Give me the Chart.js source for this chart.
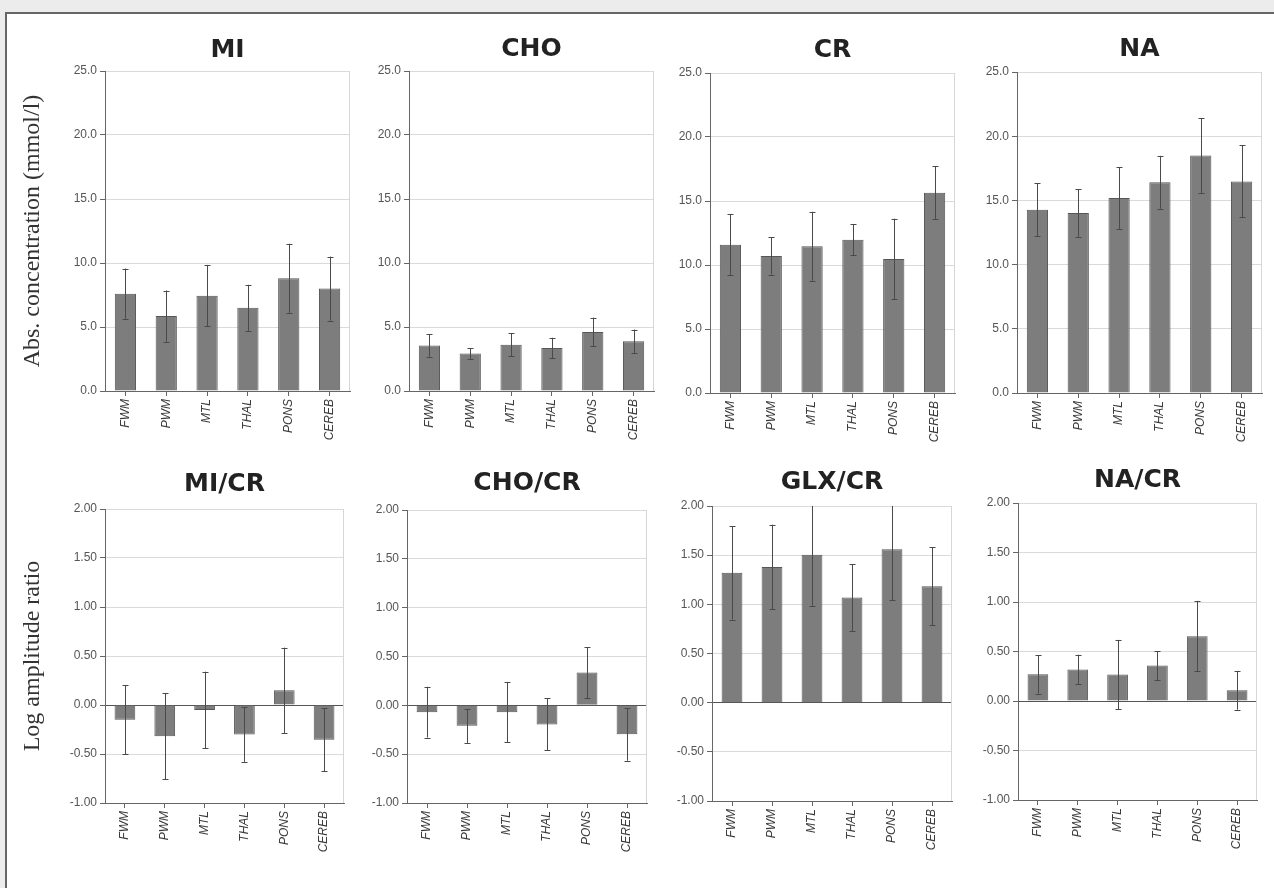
<!DOCTYPE html>
<html><head><meta charset="utf-8">
<script src="https://cdn.jsdelivr.net/npm/chart.js@4.4.1/dist/chart.umd.min.js"></script>
<style>
html,body{margin:0;padding:0;}
body{width:1274px;height:888px;background:#ececec;position:relative;overflow:hidden;}
#frame{position:absolute;left:5px;top:12px;right:0;bottom:0;background:#fff;border-left:2px solid #666;border-top:2px solid #666;}
canvas{position:absolute;}
</style></head><body>
<div id="frame"></div>
<script>
// ---- data ----
const regions = ['FWM', 'PWM', 'MTL', 'THAL', 'PONS', 'CEREB'];

const miMean  = [7.6, 5.85, 7.45, 6.5, 8.8, 8.0];
const miSd    = [1.97, 2.0, 2.4, 1.8, 2.7, 2.5];
const choMean = [3.55, 2.92, 3.62, 3.36, 4.61, 3.88];
const choSd   = [0.88, 0.43, 0.9, 0.8, 1.12, 0.92];
const crMean  = [11.59, 10.7, 11.46, 11.98, 10.47, 15.65];
const crSd    = [2.4, 1.45, 2.7, 1.2, 3.15, 2.05];
const naMean  = [14.27, 14.01, 15.18, 16.41, 18.49, 16.48];
const naSd    = [2.07, 1.85, 2.4, 2.06, 2.93, 2.8];

const miCrMean  = [-0.15, -0.32, -0.05, -0.30, 0.15, -0.355];
const miCrSd    = [0.35, 0.44, 0.39, 0.28, 0.435, 0.32];
const choCrMean = [-0.07, -0.21, -0.07, -0.195, 0.335, -0.297];
const choCrSd   = [0.26, 0.175, 0.31, 0.265, 0.26, 0.27];
const glxCrMean = [1.32, 1.38, 1.505, 1.069, 1.56, 1.184];
const glxCrSd   = [0.475, 0.43, 0.52, 0.34, 0.52, 0.395];
const naCrMean  = [0.27, 0.318, 0.267, 0.358, 0.655, 0.108];
const naCrSd    = [0.195, 0.15, 0.35, 0.147, 0.356, 0.196];

const concTicks = {min: 0, max: 25, step: 5, decimals: 1};
const ratioTicks = {min: -1, max: 2, step: 0.5, decimals: 2};

const concLabel = 'Abs. concentration (mmol/l)';
const ratioLabel = 'Log amplitude ratio';

const panels = [
  {title: 'MI',     mean: miMean,    sd: miSd,    ticks: concTicks,  yTitle: concLabel},
  {title: 'CHO',    mean: choMean,   sd: choSd,   ticks: concTicks},
  {title: 'CR',     mean: crMean,    sd: crSd,    ticks: concTicks},
  {title: 'NA',     mean: naMean,    sd: naSd,    ticks: concTicks},
  {title: 'MI/CR',  mean: miCrMean,  sd: miCrSd,  ticks: ratioTicks, yTitle: ratioLabel},
  {title: 'CHO/CR', mean: choCrMean, sd: choCrSd, ticks: ratioTicks},
  {title: 'GLX/CR', mean: glxCrMean, sd: glxCrSd, ticks: ratioTicks},
  {title: 'NA/CR',  mean: naCrMean,  sd: naCrSd,  ticks: ratioTicks}
];

// ---- layout (plot-area boxes, title centre) ----
const boxes = [
  {l: 105, r: 350, t: 71, b: 391, ty: 50},
  {l: 409, r: 654, t: 71, b: 391, ty: 49},
  {l: 710, r: 955, t: 73, b: 393, ty: 50},
  {l: 1017, r: 1262, t: 72, b: 393, ty: 49},
  {l: 105, r: 344, t: 509, b: 803, ty: 484},
  {l: 407, r: 647, t: 510, b: 803, ty: 483},
  {l: 712, r: 952, t: 506, b: 801, ty: 482},
  {l: 1018, r: 1257, t: 503, b: 800, ty: 480}
];

const errorBars = {
  id: 'errorBars',
  afterDatasetsDraw(chart) {
    const meta = chart.getDatasetMeta(0);
    const ds = chart.data.datasets[0];
    const y = chart.scales.y;
    const ca = chart.chartArea;
    const ctx = chart.ctx;
    ctx.save();
    ctx.strokeStyle = '#4a4a4a';
    ctx.lineWidth = 1;
    meta.data.forEach((bar, i) => {
      const m = ds.data[i], s = ds.errors[i];
      let yt = y.getPixelForValue(m + s), yb = y.getPixelForValue(m - s);
      const x = Math.round(bar.x) + 0.5;
      const clipTop = yt < ca.top - 0.5;
      const clipBot = yb > ca.bottom + 0.5;
      yt = Math.max(yt, ca.top); yb = Math.min(yb, ca.bottom);
      ctx.beginPath();
      ctx.moveTo(x, yt); ctx.lineTo(x, yb);
      if (!clipTop) { ctx.moveTo(x - 3, Math.round(yt) + 0.5); ctx.lineTo(x + 3, Math.round(yt) + 0.5); }
      if (!clipBot) { ctx.moveTo(x - 3, Math.round(yb) + 0.5); ctx.lineTo(x + 3, Math.round(yb) + 0.5); }
      ctx.stroke();
    });
    ctx.restore();
  }
};

const rightEdge = {
  id: 'rightEdge',
  beforeDatasetsDraw(chart) {
    const ca = chart.chartArea, ctx = chart.ctx;
    ctx.save();
    ctx.strokeStyle = '#d6d6d6';
    ctx.lineWidth = 1;
    ctx.beginPath();
    ctx.moveTo(Math.round(ca.right) - 0.5, ca.top);
    ctx.lineTo(Math.round(ca.right) - 0.5, ca.bottom);
    ctx.stroke();
    ctx.restore();
  }
};

const TITLE_SIZE = 25, TITLE_LH = 1.2;
const XAXIS_H = 75;

panels.forEach((p, i) => {
  const bx = boxes[i];
  const col = i % 4;
  const A = col === 0 ? bx.l - 10 : 50;
  const cLeft = bx.l - A;
  const cTop = Math.round(bx.ty - TITLE_SIZE * TITLE_LH / 2);
  const cW = (bx.r - bx.l) + 2 * A;
  const cH = (bx.b - cTop) + XAXIS_H;
  const padBottom = bx.t - cTop - TITLE_SIZE * TITLE_LH;

  const cv = document.createElement('canvas');
  cv.width = cW; cv.height = cH;
  cv.style.left = cLeft + 'px'; cv.style.top = cTop + 'px';
  cv.style.width = cW + 'px'; cv.style.height = cH + 'px';
  document.body.appendChild(cv);

  const t = p.ticks;
  new Chart(cv.getContext('2d'), {
    type: 'bar',
    data: {
      labels: regions,
      datasets: [{
        data: p.mean,
        errors: p.sd,
        backgroundColor: '#7d7d7d',
        borderColor: '#565656',
        borderWidth: 1,
        barPercentage: 0.52,
        categoryPercentage: 1.0
      }]
    },
    options: {
      responsive: false,
      animation: false,
      devicePixelRatio: 1,
      layout: {padding: 0},
      plugins: {
        legend: {display: false},
        tooltip: {enabled: false},
        title: {
          display: true,
          text: p.title,
          color: '#222',
          font: {family: 'DejaVu Sans', size: TITLE_SIZE, weight: 'bold', lineHeight: TITLE_LH},
          padding: {top: 0, bottom: padBottom}
        }
      },
      scales: {
        x: {
          type: 'category',
          offset: true,
          grid: {display: true, drawOnChartArea: false, offset: false, tickLength: 5, tickColor: '#666'},
          border: {display: true, color: '#666', width: 1},
          ticks: {
            autoSkip: false, minRotation: 90, maxRotation: 90, padding: 3,
            color: '#3a3a3a',
            font: {family: 'Liberation Sans', size: 12, style: 'italic'}
          },
          afterFit(s) { s.height = XAXIS_H; }
        },
        y: {
          type: 'linear',
          position: 'left',
          min: t.min, max: t.max,
          grid: {
            color: (c) => (c.tick && c.tick.value === 0 && t.min < 0) ? '#555' : '#dadada',
            tickColor: '#666', tickLength: 5, lineWidth: 1
          },
          border: {display: true, color: '#666', width: 1},
          ticks: {
            stepSize: t.step, padding: 3, color: '#555',
            font: {family: 'Liberation Sans', size: 12},
            callback: (v) => Number(v).toFixed(t.decimals)
          },
          title: p.yTitle ? {
            display: true, text: p.yTitle, color: '#333',
            font: {family: 'Liberation Serif', size: 24, lineHeight: 1.2},
            padding: {top: 8, bottom: 0}
          } : {display: false},
          afterFit(s) { s.width = A; }
        },
        yr: {
          type: 'linear',
          position: 'right',
          display: true,
          grid: {display: false, drawOnChartArea: false},
          border: {display: false},
          ticks: {display: false},
          afterFit(s) { s.width = A; }
        }
      }
    },
    plugins: [rightEdge, errorBars]
  });
});
</script>
</body></html>
